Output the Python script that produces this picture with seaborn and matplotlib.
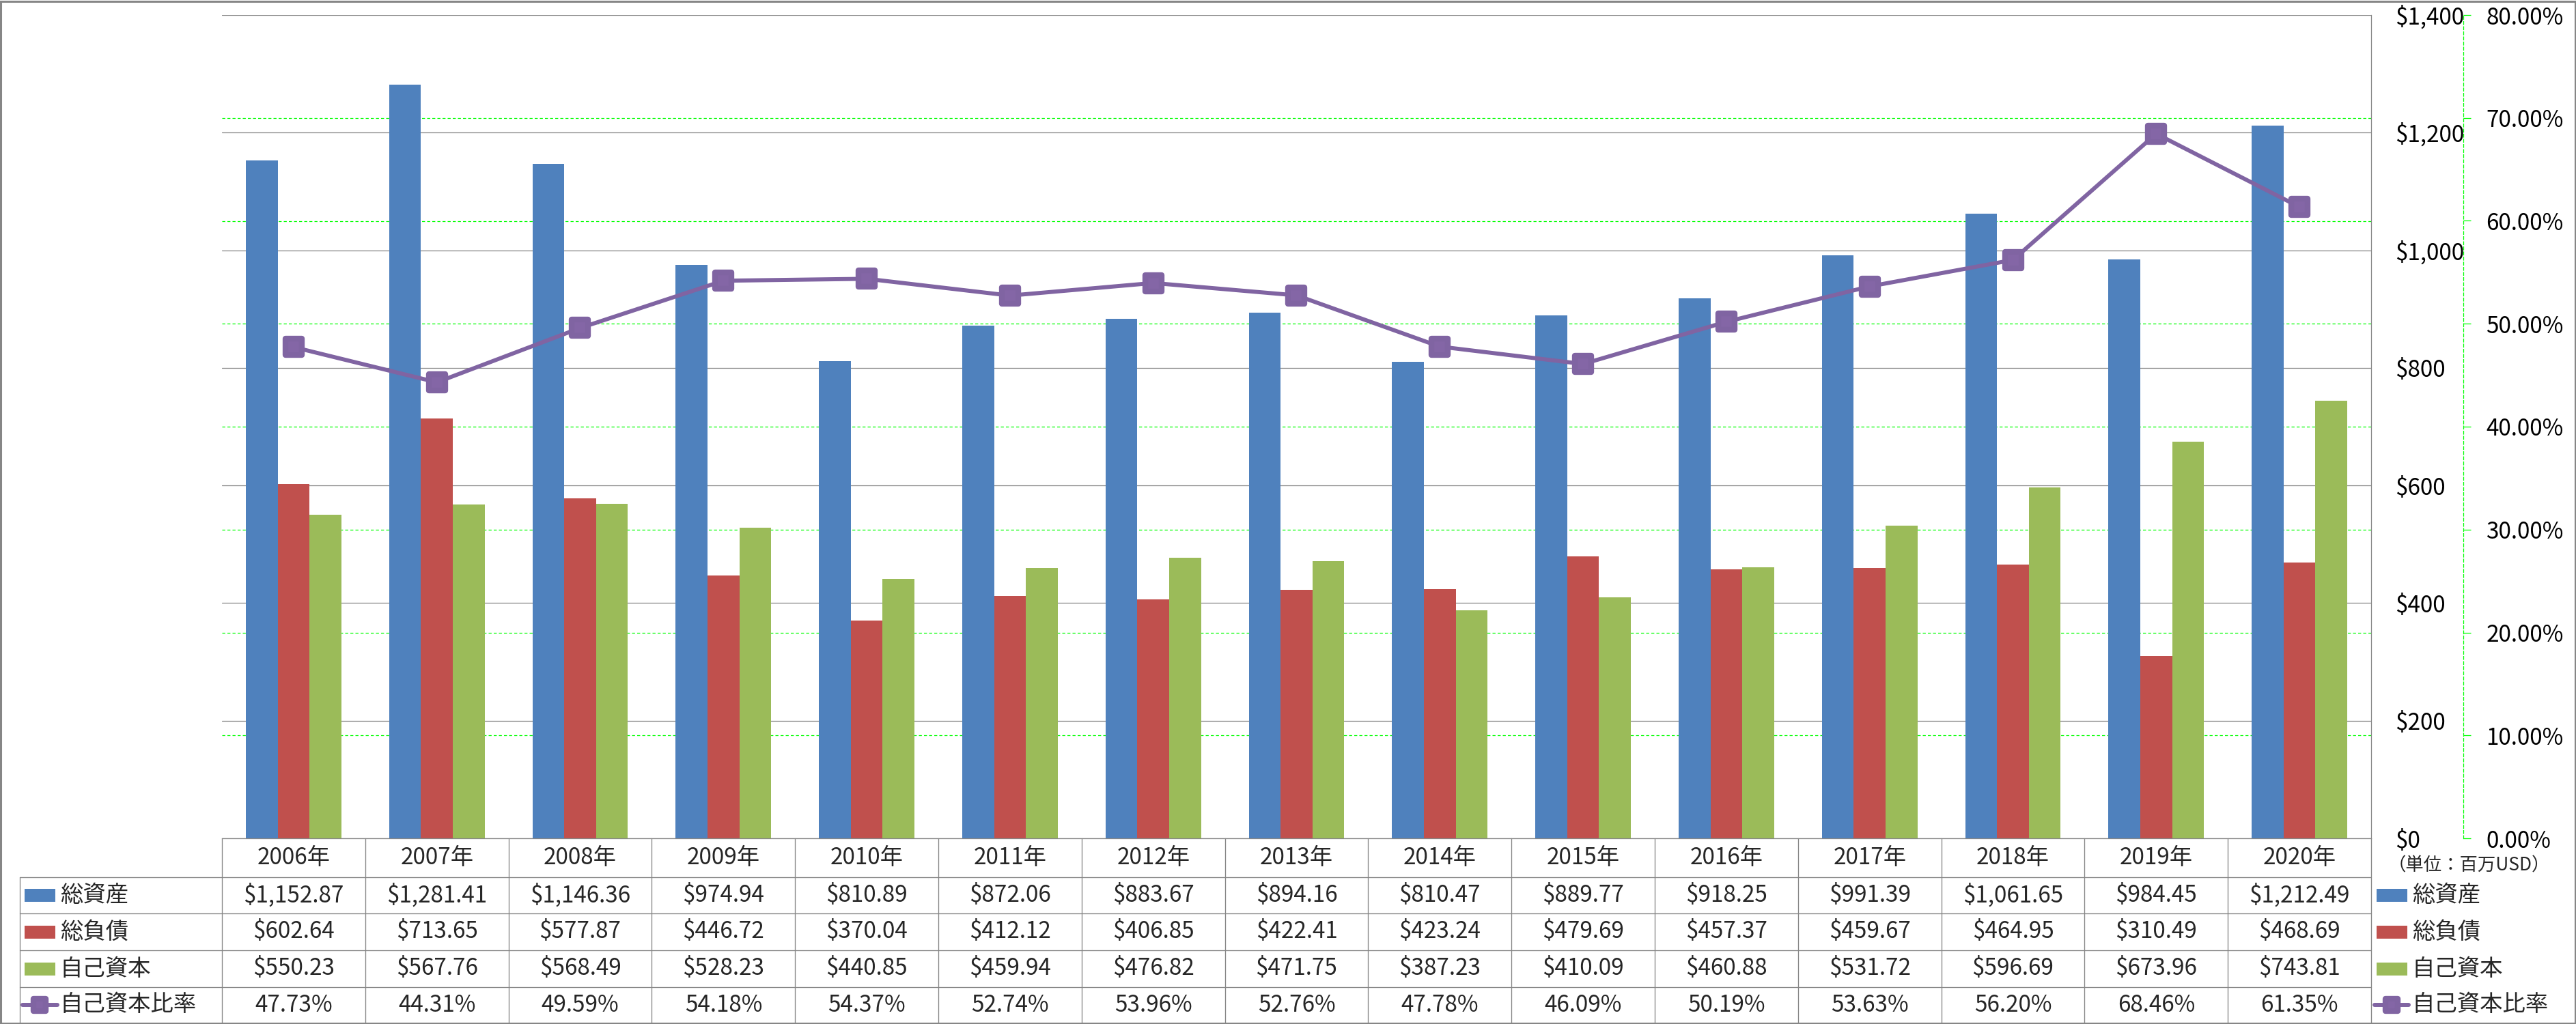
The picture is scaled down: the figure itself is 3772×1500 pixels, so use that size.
import matplotlib
matplotlib.use("Agg")
import matplotlib.pyplot as plt
import seaborn as sns
import pandas as pd
import numpy as np
from matplotlib.lines import Line2D
from matplotlib.patches import Rectangle
from matplotlib.markers import MarkerStyle
from matplotlib.ticker import FixedLocator, FuncFormatter

# ---------------- data ----------------
years = [2006, 2007, 2008, 2009, 2010, 2011, 2012, 2013, 2014, 2015, 2016, 2017, 2018, 2019, 2020]
year_labels = [f"{y}年" for y in years]
series_names = ["総資産", "総負債", "自己資本"]
ratio_name = "自己資本比率"
total_assets = [1152.87, 1281.41, 1146.36, 974.94, 810.89, 872.06, 883.67, 894.16,
                810.47, 889.77, 918.25, 991.39, 1061.65, 984.45, 1212.49]
total_liabilities = [602.64, 713.65, 577.87, 446.72, 370.04, 412.12, 406.85, 422.41,
                     423.24, 479.69, 457.37, 459.67, 464.95, 310.49, 468.69]
equity = [550.23, 567.76, 568.49, 528.23, 440.85, 459.94, 476.82, 471.75,
          387.23, 410.09, 460.88, 531.72, 596.69, 673.96, 743.81]
equity_ratio = [47.73, 44.31, 49.59, 54.18, 54.37, 52.74, 53.96, 52.76,
                47.78, 46.09, 50.19, 53.63, 56.20, 68.46, 61.35]
unit_label = "（単位：百万USD）"
dollar_ticks = [0, 200, 400, 600, 800, 1000, 1200, 1400]
pct_ticks = [0, 10, 20, 30, 40, 50, 60, 70, 80]

colors = ["#4F81BD", "#C0504D", "#9BBB59"]
purple = "#8064A2"
gray = "#868686"
lime = "#00FF00"

sns.set_theme(style="white")
plt.rcParams["font.family"] = ["Noto Sans CJK JP", "DejaVu Sans"]

W, H, DPI = 3773, 1500, 100
fig = plt.figure(figsize=(W / DPI, H / DPI), dpi=DPI)
fig.patch.set_facecolor("white")

PL, PR, PT, PB = 325, 3472, 22, 1228
ax = fig.add_axes([PL / W, 1 - PB / H, (PR - PL) / W, (PB - PT) / H])

values = [total_assets, total_liabilities, equity]
df = pd.DataFrame({
    "year": np.repeat([year_labels], 3, axis=0).ravel(),
    "series": np.repeat(series_names, len(years)),
    "value": np.concatenate(values),
})
sns.barplot(data=df, x="year", y="value", hue="series", order=year_labels,
            hue_order=series_names, palette=colors, saturation=1, width=0.667,
            linewidth=0, errorbar=None, legend=False, ax=ax)

ax2 = ax.twinx()

ax.set_xlim(-0.5, len(years) - 0.5)
ax.set_ylim(0, 1400)
ax.set_yticks(dollar_ticks)
ax.yaxis.set_major_formatter(FuncFormatter(lambda v, p: f"${v:,.0f}"))
ax.yaxis.tick_right()
ax.yaxis.set_label_position("right")
ax.tick_params(axis="y", which="major", length=0, pad=25, labelsize=24, labelcolor="black",
               left=False, labelleft=False, right=False, labelright=True)
ax.tick_params(axis="x", length=0, labelbottom=False)
ax.set_xlabel("")
ax.set_ylabel("")
ax.grid(axis="y", which="major", color=gray, lw=0.9, ls="-")
ax.yaxis.set_minor_locator(FixedLocator([p * 1400 / 80 for p in pct_ticks[1:-1]]))
ax.grid(axis="y", which="minor", color=lime, lw=0.9, ls=(0, (3.5, 2.5)))
ax.tick_params(axis="y", which="minor", length=0)
ax.set_axisbelow(True)
for s in ["left", "top"]:
    ax.spines[s].set_visible(False)
for s in ["right", "bottom"]:
    ax.spines[s].set_color(gray)
    ax.spines[s].set_linewidth(0.9)

ms_style = MarkerStyle("s", joinstyle="round")
sns.lineplot(x=np.arange(len(years)), y=equity_ratio, ax=ax2, color=purple, lw=4.3,
             marker=ms_style, ms=17, mew=6, mec=purple, mfc="#8466A6")
ax2.set_xlim(-0.5, len(years) - 0.5)
ax2.set_ylim(0, 80)
ax2.set_yticks(pct_ticks)
ax2.yaxis.set_major_formatter(FuncFormatter(lambda v, p: f"{v:.2f}%"))
ax2.grid(False)
for s in ["left", "top", "bottom"]:
    ax2.spines[s].set_visible(False)
ax2.spines["right"].set_position(("axes", (3607 - PL) / (PR - PL)))
ax2.spines["right"].set_color(lime)
ax2.spines["right"].set_linewidth(0.9)
ax2.spines["right"].set_linestyle((0, (3.5, 2.5)))
ax2.tick_params(axis="y", direction="out", length=8, width=0.9, color=lime, pad=16,
                labelsize=24, labelcolor="black")
ax2.set_ylabel("")

# ---------------- data table ----------------
def fx(x):
    return x / W


def fy(y):
    return 1 - y / H


lw_t = 0.95
colw = (PR - PL) / len(years)
row_bounds = [1285, 1338, 1392, 1446, 1498]
header_c = (PB + row_bounds[0]) / 2
row_c = [(row_bounds[i] + row_bounds[i + 1]) / 2 for i in range(4)]
LBL = 28.6

for yb in row_bounds[:-1]:
    fig.add_artist(Line2D([fx(LBL), fx(PR)], [fy(yb), fy(yb)], transform=fig.transFigure,
                          color=gray, lw=lw_t))
fig.add_artist(Line2D([fx(LBL), fx(LBL)], [fy(row_bounds[0]), fy(row_bounds[-1])],
                      transform=fig.transFigure, color=gray, lw=lw_t))
for i in range(len(years) + 1):
    xv = PL + i * colw
    fig.add_artist(Line2D([fx(xv), fx(xv)], [fy(PB), fy(row_bounds[-1])],
                          transform=fig.transFigure, color=gray, lw=lw_t))

for i, lab in enumerate(year_labels):
    cx = PL + (i + 0.5) * colw
    fig.text(fx(cx), fy(header_c), lab, ha="center", va="center", fontsize=24)
    for r, vals in enumerate(values):
        fig.text(fx(cx), fy(row_c[r]), f"${vals[i]:,.2f}", ha="center", va="center", fontsize=24)
    fig.text(fx(cx), fy(row_c[3]), f"{equity_ratio[i]:.2f}%", ha="center", va="center", fontsize=24)


def legend_keys(x_rect, x_text, line_span):
    for r, (name, c) in enumerate(zip(series_names, colors)):
        fig.add_artist(Rectangle((fx(x_rect), fy(row_c[r] + 9.5)), 45 / W, 19 / H,
                                 transform=fig.transFigure, color=c, lw=0))
        fig.text(fx(x_text), fy(row_c[r]), name, ha="left", va="center", fontsize=24)
    x0, x1 = line_span
    fig.add_artist(Line2D([fx(x0), fx(x1)], [fy(row_c[3]), fy(row_c[3])],
                          transform=fig.transFigure, color=purple, lw=4.3,
                          solid_capstyle="round"))
    fig.add_artist(Line2D([fx((x0 + x1) / 2)], [fy(row_c[3])], transform=fig.transFigure,
                          marker=MarkerStyle("s", joinstyle="round"), ms=13, mew=6,
                          mec=purple, mfc="#8466A6", lw=0))
    fig.text(fx(x_text), fy(row_c[3]), ratio_name, ha="left", va="center", fontsize=24)


legend_keys(36, 88, (33, 84))
legend_keys(3480, 3532, (3477, 3527))
fig.text(fx(3497), fy(1268), unit_label, ha="left", va="center", fontsize=19)

# outer border
fig.add_artist(Rectangle((fx(1.5), fy(H - 1.5)), (W - 3) / W, (H - 3) / H,
                         transform=fig.transFigure, fill=False, edgecolor=gray, lw=2.2))

fig.savefig("out.png", dpi=DPI, facecolor="white")
